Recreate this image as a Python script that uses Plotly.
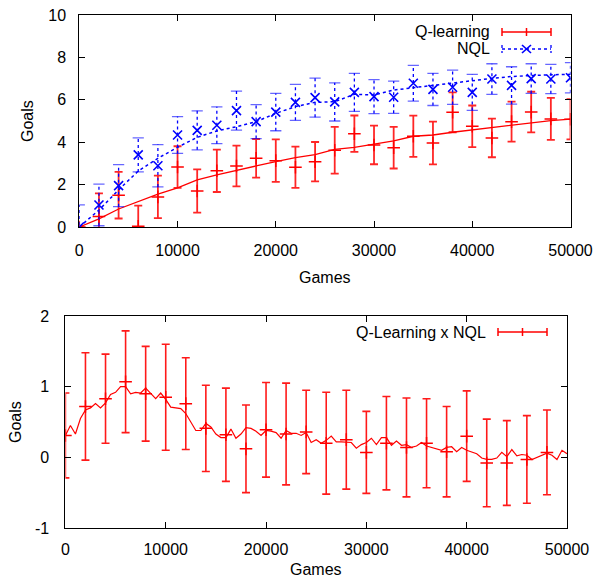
import plotly.graph_objects as go

# ---------------- data: top panel ----------------
games = [0, 2000, 4000, 6000, 8000, 10000, 12000, 14000, 16000, 18000, 20000, 22000, 24000,
         26000, 28000, 30000, 32000, 34000, 36000, 38000, 40000, 42000, 44000, 46000, 48000, 50000]
q_line = [0, 0.38, 0.85, 1.19, 1.55, 1.85, 2.22, 2.46, 2.68, 2.88, 3.08, 3.27, 3.41,
          3.66, 3.76, 3.90, 4.06, 4.28, 4.34, 4.47, 4.58, 4.69, 4.83, 4.92, 5.02, 5.09]
nql_line = [0, 0.80, 1.75, 2.64, 3.24, 3.76, 4.23, 4.53, 4.73, 4.97, 5.36, 5.68, 5.88,
            5.91, 6.26, 6.23, 6.46, 6.57, 6.70, 6.81, 6.90, 7.01, 7.10, 7.15, 7.18, 7.20]
q_mean = [0, 0.49, 1.50, 0.03, 1.42, 2.83, 1.70, 2.65, 2.88, 3.24, 3.13, 2.82, 3.08,
          3.62, 4.40, 3.87, 3.74, 4.28, 3.96, 5.41, 4.75, 4.20, 4.97, 5.42, 5.10, 5.08]
q_err = [0, 1.10, 1.10, 0.98, 1.00, 0.98, 1.02, 1.00, 0.96, 0.91, 1.00, 0.97, 0.93,
         1.10, 0.86, 0.91, 0.98, 0.97, 1.01, 0.94, 0.98, 0.91, 0.94, 0.96, 0.99, 0.95]
nql_mean = [0, 1.04, 1.95, 3.40, 2.89, 4.34, 4.56, 4.80, 5.49, 4.97, 5.42, 5.88, 6.10,
            5.90, 6.35, 6.15, 6.12, 6.78, 6.49, 6.59, 6.35, 6.98, 6.68, 7.00, 6.98, 7.04]
nql_err = [1.04, 0.98, 0.99, 0.80, 1.00, 0.87, 0.92, 0.87, 0.92, 0.80, 0.88, 0.85, 0.92,
           0.90, 0.90, 0.80, 0.76, 0.84, 0.76, 0.81, 0.85, 0.72, 0.88, 0.70, 0.69, 0.71]

# ---------------- data: bottom panel ----------------
diff_games = list(range(0, 50001, 500))
diff_line = [0.31, 0.45, 0.33, 0.55, 0.67, 0.70, 0.76, 0.70, 0.77, 0.89,
             0.92, 1.00, 1.00, 0.90, 0.92, 0.91, 0.98, 0.90, 0.83, 0.91,
             0.82, 0.71, 0.70, 0.69, 0.62, 0.50, 0.38, 0.38, 0.48, 0.43,
             0.33, 0.28, 0.28, 0.40, 0.27, 0.33, 0.42, 0.41, 0.37, 0.31,
             0.38, 0.37, 0.35, 0.27, 0.38, 0.34, 0.34, 0.31, 0.35, 0.21,
             0.25, 0.20, 0.24, 0.30, 0.22, 0.22, 0.21, 0.21, 0.13, 0.18,
             0.21, 0.27, 0.18, 0.28, 0.28, 0.17, 0.23, 0.17, 0.18, 0.14,
             0.16, 0.21, 0.16, 0.14, 0.11, 0.10, 0.14, 0.15, 0.08, 0.14,
             0.10, 0.07, 0.05, -0.01, -0.03, -0.03, -0.01, 0.07, 0.01, 0.11,
             0.02, 0.04, 0.03, -0.03, 0.00, 0.02, 0.06, 0.03, -0.03, 0.10,
             0.05]
diff_err_games = list(range(0, 48001, 2000))
diff_mean = [0.31, 0.72, 0.83, 1.07, 0.90, 0.85, 0.76, 0.41, 0.32, 0.12, 0.39, 0.33, 0.36,
             0.20, 0.25, 0.07, 0.20, 0.14, 0.20, 0.08, 0.30, -0.08, -0.08, -0.03, 0.07]
diff_err = [0.60, 0.76, 0.63, 0.72, 0.67, 0.75, 0.65, 0.61, 0.66, 0.62, 0.67, 0.72, 0.59,
            0.72, 0.70, 0.58, 0.66, 0.70, 0.63, 0.64, 0.64, 0.62, 0.60, 0.62, 0.60]

x_ticks = [0, 10000, 20000, 30000, 40000, 50000]
x_tick_text = ["0", "10000", "20000", "30000", "40000", "50000"]
top_y_ticks = [0, 2, 4, 6, 8, 10]
bot_y_ticks = [-1, 0, 1, 2]
bot_y_text = ["-1", "0", "1", "2"]

W, H = 607, 578
FONT = "Liberation Sans, Arial, Helvetica, sans-serif"
RED = "#ff0000"
BLUE = "#0000ff"


def px(x):
    return x / W


def py(y):
    return 1 - y / H


fig = go.Figure()

# ---- top panel ----
fig.add_trace(go.Scatter(x=games, y=q_line, mode="lines", line=dict(color=RED, width=1.3),
                         xaxis="x", yaxis="y", showlegend=False, hoverinfo="skip"))
fig.add_trace(go.Scatter(x=games, y=q_mean, mode="markers",
                         marker=dict(symbol="cross-thin", size=9, line=dict(color=RED, width=1.5)),
                         error_y=dict(type="data", array=q_err, visible=True, color="rgba(255,0,0,0.85)",
                                      thickness=1.8, width=4),
                         xaxis="x", yaxis="y", name="Q-learning", showlegend=False))
fig.add_trace(go.Scatter(x=games, y=nql_line, mode="lines", line=dict(color=BLUE, width=1.5, dash="dot"),
                         xaxis="x", yaxis="y", showlegend=False, hoverinfo="skip"))
# dotted NQL error bars built from the data arrays
ebx, eby = [], []
capx, capy = [], []
for g, m, e in zip(games, nql_mean, nql_err):
    ebx += [g, g, None]
    eby += [m - e, m + e, None]
    capx += [g, g]
    capy += [m - e, m + e]
fig.add_trace(go.Scatter(x=ebx, y=eby, mode="lines", line=dict(color=BLUE, width=1.3, dash="dot"),
                         xaxis="x", yaxis="y", showlegend=False, hoverinfo="skip"))
fig.add_trace(go.Scatter(x=capx, y=capy, mode="markers",
                         marker=dict(symbol="line-ew", size=8, line=dict(color="rgba(0,0,255,0.6)", width=1.3)),
                         xaxis="x", yaxis="y", showlegend=False, hoverinfo="skip"))
fig.add_trace(go.Scatter(x=games, y=nql_mean, mode="markers",
                         marker=dict(symbol="x-thin", size=9, line=dict(color=BLUE, width=1.6)),
                         xaxis="x", yaxis="y", name="NQL", showlegend=False))

# ---- bottom panel ----
fig.add_trace(go.Scatter(x=diff_games, y=diff_line, mode="lines", line=dict(color=RED, width=1.2),
                         xaxis="x2", yaxis="y2", showlegend=False, hoverinfo="skip"))
fig.add_trace(go.Scatter(x=diff_err_games, y=diff_mean, mode="markers",
                         marker=dict(symbol="cross-thin", size=9, line=dict(color=RED, width=1.5)),
                         error_y=dict(type="data", array=diff_err, visible=True, color="rgba(255,0,0,0.9)",
                                      thickness=1.6, width=4),
                         xaxis="x2", yaxis="y2", name="Q-Learning x NQL", showlegend=False))

axis_common = dict(showline=True, linecolor="black", linewidth=1, mirror="ticks", ticks="inside",
                   ticklen=6, tickcolor="black", tickwidth=1, showgrid=False, zeroline=False,
                   automargin=False,
                   tickfont=dict(family=FONT, size=16, color="black"))

fig.update_layout(
    template="none",
    width=W, height=H, margin=dict(l=0, r=0, t=0, b=0, pad=0), autosize=False,
    paper_bgcolor="white", plot_bgcolor="white", showlegend=False,
    font=dict(family=FONT, size=16, color="black"),
    xaxis=dict(domain=[px(79.3), px(570.5)], range=[0, 50000], tickvals=x_ticks, ticktext=x_tick_text,
               anchor="y", ticklabelstandoff=9, **axis_common),
    yaxis=dict(domain=[py(227), py(15)], range=[0, 10], tickvals=top_y_ticks,
               anchor="x", ticklabelstandoff=9, **axis_common),
    xaxis2=dict(domain=[px(65.4), px(567)], range=[0, 50000], tickvals=x_ticks, ticktext=x_tick_text,
                anchor="y2", ticklabelstandoff=7, **axis_common),
    yaxis2=dict(domain=[py(528), py(316)], range=[-1, 2], tickvals=bot_y_ticks, ticktext=bot_y_text,
                anchor="x2", ticklabelstandoff=12, **axis_common),
)


def label(text, x, y, angle=0, xanchor="center"):
    return dict(text=text, x=px(x), y=py(y), xref="paper", yref="paper", showarrow=False,
                xanchor=xanchor, yanchor="middle", textangle=angle, font=dict(size=16))


ann = [
    label("Games", 325, 277),
    label("Goals", 27, 121, -90),
    label("Games", 316, 569),
    label("Goals", 15, 422, -90),
    label("Q-learning", 492, 32, xanchor="right"),
    label("NQL", 492, 49, xanchor="right"),
    label("Q-Learning x NQL", 488, 332, xanchor="right"),
]
fig.update_layout(annotations=ann)

# legend samples
shapes = []


def seg(x0, y0, x1, y1, color, width=1.5, dash="solid"):
    shapes.append(dict(type="line", xref="paper", yref="paper", x0=px(x0), y0=py(y0), x1=px(x1), y1=py(y1),
                       line=dict(color=color, width=width, dash=dash)))


for (yc, x0, x1) in [(32, 502, 551), (332, 498, 547)]:
    seg(x0, yc, x1, yc, RED)
    seg(x0, yc - 4, x0, yc + 4, RED)
    seg(x1, yc - 4, x1, yc + 4, RED)
    seg((x0 + x1) / 2, yc - 4, (x0 + x1) / 2, yc + 4, RED)
yc = 49
seg(502, yc, 551, yc, BLUE, 1.5, "dot")
seg(502, yc - 4, 502, yc + 4, BLUE, 1.3, "dot")
seg(551, yc - 4, 551, yc + 4, BLUE, 1.3, "dot")
seg(522, yc - 4, 531, yc + 4, BLUE, 1.6)
seg(522, yc + 4, 531, yc - 4, BLUE, 1.6)
fig.update_layout(shapes=shapes)

fig.write_html("out.html", config={"displayModeBar": False},
               post_script="document.body.style.margin='0';document.body.style.overflow='hidden';")
